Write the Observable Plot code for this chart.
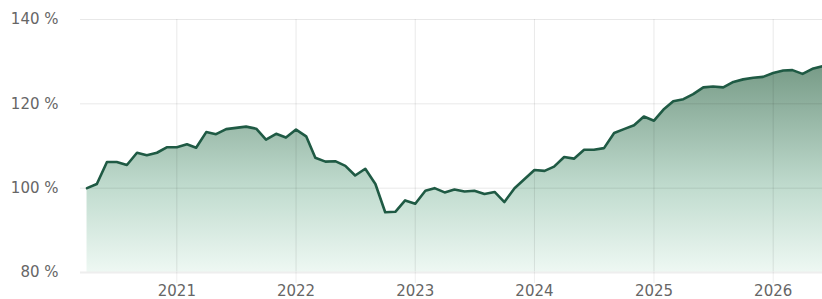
<!DOCTYPE html>
<html>
<head>
<meta charset="utf-8">
<script src="https://cdn.jsdelivr.net/npm/d3@7"></script>
<script src="https://cdn.jsdelivr.net/npm/@observablehq/plot@0.6"></script>
<style>
  html, body { margin: 0; padding: 0; background: #fff; }
  #chart { width: 822px; height: 299px; }
</style>
</head>
<body>
<div id="chart"></div>
<script>
// Monthly values (%), starting April 2020
const startYear = 2020;
const startMonth = 4;
const values = [
  100.0, 101.0, 106.2, 106.2, 105.5, 108.4, 107.8, 108.4, 109.7,
  109.7, 110.4, 109.6, 113.3, 112.8, 114.0, 114.3, 114.6, 114.1, 111.5, 112.9, 112.0,
  113.9, 112.3, 107.2, 106.3, 106.4, 105.3, 103.0, 104.6, 101.0, 94.3, 94.4, 97.1,
  96.3, 99.4, 100.0, 99.0, 99.7, 99.2, 99.4, 98.6, 99.1, 96.7, 100.0, 102.1,
  104.3, 104.1, 105.1, 107.4, 107.0, 109.1, 109.1, 109.5, 113.1, 114.0, 114.9, 117.0,
  116.0, 118.8, 120.6, 121.1, 122.3, 123.9, 124.1, 123.9, 125.2, 125.8, 126.2, 126.4,
  127.3, 127.9, 128.0, 127.1, 128.3, 128.9
];
const yTicks = [80, 100, 120, 140];
const xTickYears = [2021, 2022, 2023, 2024, 2025, 2026];

const data = values.map((v, i) => ({
  date: new Date(Date.UTC(startYear, startMonth - 1 + i, 1)),
  value: v
}));
const xTickDates = xTickYears.map(y => new Date(Date.UTC(y, 0, 1)));

const gradient = () => {
  const defs = d3.create("svg:defs");
  const g = defs.append("linearGradient")
    .attr("id", "areaGrad")
    .attr("gradientUnits", "userSpaceOnUse")
    .attr("x1", 0).attr("x2", 0).attr("y1", 19).attr("y2", 272);
  [[0.0, "#6e957f"], [0.19, "#789c88"], [0.67, "#c1dccf"], [1, "#eef8f3"]].forEach(([o, c]) =>
    g.append("stop").attr("offset", o).attr("stop-color", c));
  return defs.node();
};

const chart = Plot.plot({
  width: 822,
  height: 299,
  marginLeft: 80,
  marginRight: 0,
  marginTop: 19,
  marginBottom: 27,
  style: { fontFamily: "DejaVu Sans", fontSize: "15px", color: "#666", background: "#fff" },
  x: {
    type: "utc",
    domain: [new Date(Date.UTC(2020, 2, 12)), new Date(Date.UTC(2026, 5, 1))]
  },
  y: { domain: [80, 140] },
  marks: [
    gradient,
    Plot.areaY(data, { x: "date", y1: 80, y2: "value", fill: "url(#areaGrad)" }),
    Plot.gridY(yTicks, { stroke: "#000", strokeOpacity: 0.09 }),
    Plot.gridX(xTickDates, { stroke: "#000", strokeOpacity: 0.09 }),
    Plot.ruleY([80], { stroke: "#eeeeee", strokeWidth: 2 }),
    Plot.lineY(data, { x: "date", y: "value", stroke: "#1f5a44", strokeWidth: 2.6, strokeLinejoin: "round" }),
    Plot.axisY(yTicks, { tickSize: 0, tickPadding: 22, tickFormat: d => d + " %", fill: "#666", label: null }),
    Plot.axisX(xTickDates, { tickSize: 11, tickPadding: 2, stroke: "#000", strokeOpacity: 0.07, tickFormat: d3.utcFormat("%Y"), fill: "#666", label: null })
  ]
});
document.getElementById("chart").appendChild(chart);
</script>
</body>
</html>
